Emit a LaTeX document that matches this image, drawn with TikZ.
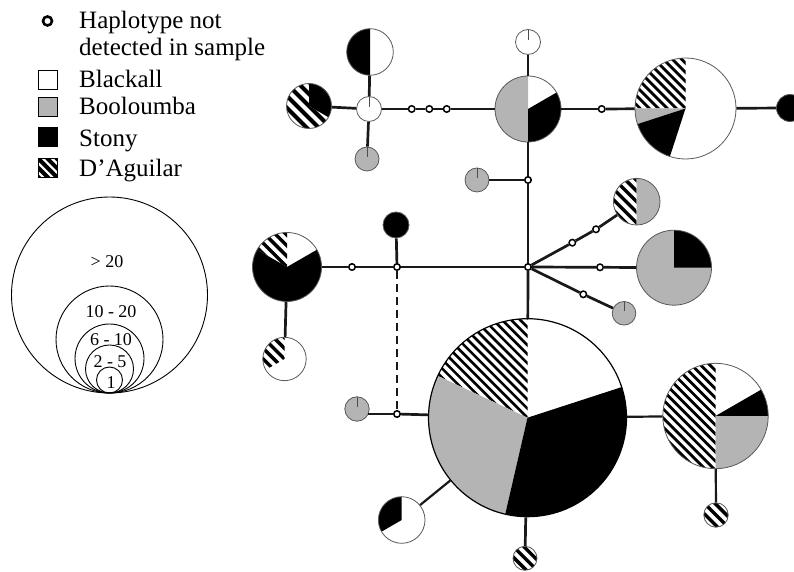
\documentclass[tikz,border=0pt]{standalone}
\usepackage{fontspec}
\setmainfont{Liberation Serif}
\definecolor{boo}{RGB}{180,180,180}
\newcommand\legfont{\fontsize{25}{28}\selectfont}
\newcommand\sizefont{\fontsize{18}{20}\selectfont}
\newcommand\pslice[3]{\fill[#3] (path picture bounding box.center) -- ++(#1:160pt) arc[start angle=#1, end angle=#2, radius=160pt] -- cycle;}
\newcommand\phatch[4]{\begin{scope}
  \clip (path picture bounding box.center) -- ++(#1:160pt) arc[start angle=#1, end angle=#2, radius=160pt] -- cycle;
  \foreach \k in {-17,...,17}{\draw[line width=#4pt, line cap=butt, black] (path picture bounding box.center) ++(45:{\k*#3}) ++(135:160) -- ++(-45:320);}
\end{scope}}
\newcommand\ptick{\draw[line width=0.8pt, black!70] ([yshift=2pt]path picture bounding box.center) -- ++(0pt,40pt);}
\tikzset{
  hap/.style={circle, draw=black!65, line width=0.8pt, fill=white, inner sep=0pt, minimum size=#1},
  junc/.style={circle, draw=black, line width=1.5pt, fill=white, inner sep=0pt, minimum size=6.5pt},
  link/.style={line width=2.7pt, black!90},
  thinlink/.style={line width=2.2pt, black!90},
  lsq/.style={rectangle, draw=black, line width=1pt, inner sep=0pt, minimum size=19pt},
  lcirc/.style={circle, draw=black, line width=0.9pt, inner sep=0pt, minimum size=#1},
  ltext/.style={anchor=base west, font=\legfont, inner sep=0pt},
  stext/.style={font=\sizefont, inner sep=0pt}
}
\begin{document}
\begin{tikzpicture}[x=1pt,y=1pt]
\useasboundingbox (0,0) rectangle (794,572);
% ---------- legend ----------
\node[circle, draw=black, line width=2.6pt, minimum size=9pt, inner sep=0pt] (lm) at (47.5,551) {};
\node[ltext] (lt1) at (79,543.7) {Haplotype not};
\node[ltext] (lt2) at (79,516.3) {detected in sample};
\node[lsq, fill=white] (s1) at (47.5,491.5) {};
\node[lsq, fill=boo] (s2) at (47.5,465.3) {};
\node[lsq, fill=black] (s3) at (47.5,434.8) {};
\node[lsq, fill=white, path picture={\phatch{0}{360}{6.5}{4}}] (s4) at (47.5,404.2) {};
\node[ltext] (t1) at (79,484.5) {Blackall};
\node[ltext] (t2) at (79,457) {Booloumba};
\node[ltext] (t3) at (79,425.3) {Stony};
\node[ltext] (t4) at (79,395.3) {D’Aguilar};
\node[lcirc=196pt] (c5) at (109.5,277) {};
\node[lcirc=107pt] (c4) at (109.5,232.5) {};
\node[lcirc=69pt] (c3) at (109.5,213.5) {};
\node[lcirc=48pt] (c2) at (109.5,203) {};
\node[lcirc=26pt] (c1) at (109.5,192) {};
\node[stext] (l5) at (107,310) {> 20};
\node[stext] (l4) at (111,260) {10 - 20};
\node[stext] (l3) at (111,232) {6 - 10};
\node[stext] (l2) at (110,210) {2 - 5};
\node[stext] (l1) at (111,189) {1};
% ---------- haplotypes ----------
\node[hap=46.6pt, path picture={\pslice{90}{270}{black}}] (A) at (370,520) {};
\node[hap=45pt, path picture={\pslice{-30}{90}{black}\phatch{90}{330}{8.5}{4}}] (B) at (309,466) {};
\node[hap=25pt, path picture={\ptick}] (C) at (369,463) {};
\node[hap=24pt, fill=boo, path picture={\ptick}] (D) at (367,413) {};
\node[hap=66pt, path picture={\pslice{90}{270}{boo}\pslice{270}{390}{black}}] (E) at (528,463) {};
\node[hap=25pt, path picture={\ptick}] (F) at (528,530) {};
\node[hap=101pt, path picture={\phatch{90}{180}{6.4}{2.8}\pslice{180}{198}{boo}\pslice{198}{252}{black}}] (G) at (685.5,463.5) {};
\node[hap=27pt, fill=black] (H) at (790,464) {};
\node[hap=24pt, fill=boo, path picture={\ptick}] (I) at (477,392) {};
\node[hap=69pt, path picture={\phatch{90}{150}{7.5}{3.4}\pslice{150}{390}{black}}] (K) at (287,305) {};
\node[hap=26pt, fill=black] (L) at (396,347) {};
\node[hap=43.4pt, path picture={\phatch{90}{210}{7.5}{3.4}}] (M) at (284.5,213) {};
\node[hap=24.4pt, fill=boo, path picture={\ptick}] (N) at (357,163) {};
\node[hap=198pt, draw=black, line width=1.2pt, path picture={\phatch{90}{155}{6.4}{2.6}\pslice{155}{257}{boo}\pslice{257}{378}{black}}] (P) at (527.5,154.3) {};
\node[hap=105.4pt, path picture={\phatch{90}{270}{6.4}{2.8}\pslice{270}{360}{boo}\pslice{0}{30}{black}}] (Q) at (715.5,156) {};
\node[hap=24.4pt, path picture={\phatch{0}{360}{7.5}{3.4}}] (R) at (716,57) {};
\node[hap=24pt, path picture={\phatch{0}{360}{7.5}{3.4}}] (S) at (525,13.7) {};
\node[hap=46.6pt, path picture={\pslice{90}{210}{black}}] (T) at (401.7,52) {};
\node[hap=46.6pt, path picture={\phatch{90}{270}{7.5}{3.4}\pslice{270}{450}{boo}}] (U) at (636.7,370.3) {};
\node[hap=75pt, fill=boo, path picture={\pslice{0}{90}{black}}] (V) at (674,304.3) {};
\node[hap=23.6pt, fill=boo, path picture={\ptick}] (W) at (624,258.7) {};
% ---------- missing haplotypes ----------
\node[junc] (o1) at (411.7,463) {};
\node[junc] (o2) at (429.3,463) {};
\node[junc] (o3) at (446.7,463) {};
\node[junc] (o4) at (601.7,463) {};
\node[junc] (o5) at (528,392) {};
\node[junc] (J) at (528,305) {};
\node[junc] (o6) at (352,305) {};
\node[junc] (o7) at (397,305) {};
\node[junc] (o8) at (397,158) {};
\node[junc] (o9) at (572.3,329.3) {};
\node[junc] (o10) at (596,342.7) {};
\node[junc] (o11) at (600,304.7) {};
\node[junc] (o12) at (583.3,277.7) {};
% ---------- connectors ----------
\draw[link] (B) -- (C);
\draw[link] (C) -- (o1);
\draw[link] (o1) -- (o2);
\draw[link] (o2) -- (o3);
\draw[link] (o3) -- (E);
\draw[link] (A) -- (C);
\draw[link] (C) -- (D);
\draw[link] (F) -- (E);
\draw[link] (E) -- (o4);
\draw[link] (o4) -- (G);
\draw[link] (G) -- (H);
\draw[link] (I) -- (o5);
\draw[link] (E) -- (o5);
\draw[link] (o5) -- (J);
\draw[link] (J) -- (P);
\draw[link] (K) -- (o6);
\draw[link] (o6) -- (o7);
\draw[link] (o7) -- (J);
\draw[link] (L) -- (o7);
\draw[link, dash pattern=on 8pt off 5pt] (o7) -- (o8);
\draw[link] (K) -- (M);
\draw[link] (o8) -- ([xshift=-1.5pt]o8 -| N.east);
\draw[link] (o8) -- (P);
\draw[thinlink] (P) -- (Q);
\draw[thinlink] (Q) -- (R);
\draw[link] (P) -- (S);
\draw[thinlink] (P) -- (T);
\draw[link] (J) -- (o9);
\draw[link] (o9) -- (o10);
\draw[link] (o10) -- (U);
\draw[link] (J) -- (o11);
\draw[link] (o11) -- (V);
\draw[link] (J) -- (o12);
\draw[link] (o12) -- (W);
\end{tikzpicture}
\end{document}
